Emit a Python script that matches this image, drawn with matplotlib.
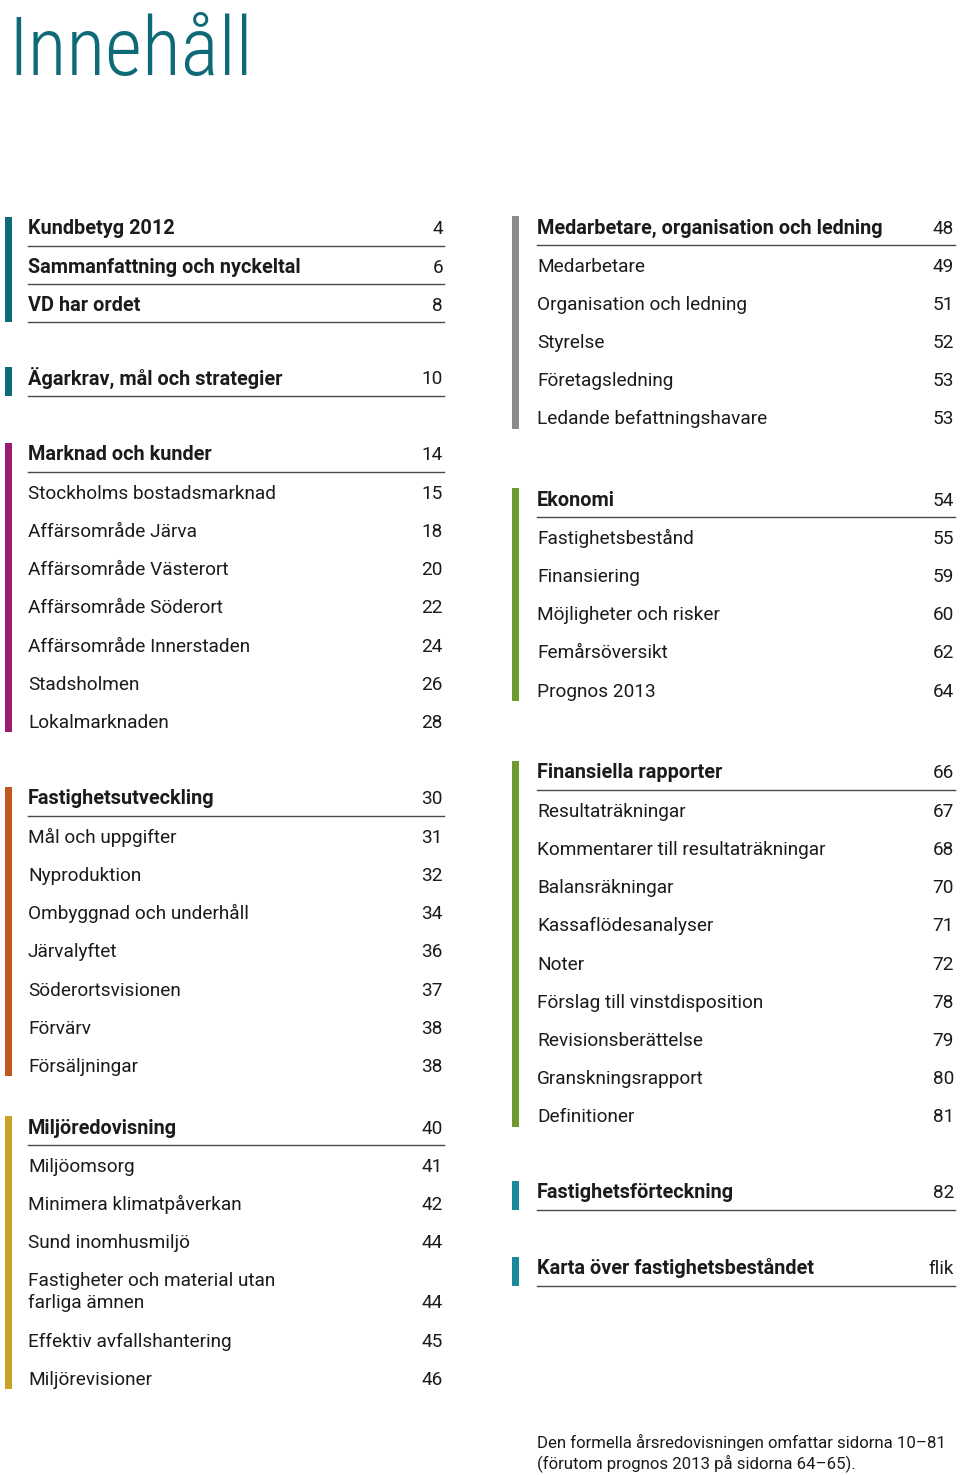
import matplotlib.pyplot as plt
from matplotlib import font_manager

# font choice: use a condensed family if one is installed
available = {f.name for f in font_manager.fontManager.ttflist}
FONT = "Roboto" if "Roboto" in available else "DejaVu Sans"
TITLE_FONT = "Roboto Condensed" if "Roboto Condensed" in available else FONT

TITLE = "Innehåll"
FOOTNOTE = ["Den formella årsredovisningen omfattar sidorna 10–81",
            "(förutom prognos 2013 på sidorna 64–65)."]

# --- contents, one pair of lists per section ---
intro_titles = ["Kundbetyg 2012", "Sammanfattning och nyckeltal", "VD har ordet"]
intro_pages = ["4", "6", "8"]

agarkrav_titles = ["Ägarkrav, mål och strategier"]
agarkrav_pages = ["10"]

marknad_titles = ["Marknad och kunder", "Stockholms bostadsmarknad", "Affärsområde Järva",
                  "Affärsområde Västerort", "Affärsområde Söderort",
                  "Affärsområde Innerstaden", "Stadsholmen", "Lokalmarknaden"]
marknad_pages = ["14", "15", "18", "20", "22", "24", "26", "28"]

utveckling_titles = ["Fastighetsutveckling", "Mål och uppgifter", "Nyproduktion",
                     "Ombyggnad och underhåll", "Järvalyftet", "Söderortsvisionen",
                     "Förvärv", "Försäljningar"]
utveckling_pages = ["30", "31", "32", "34", "36", "37", "38", "38"]

miljo_titles = ["Miljöredovisning", "Miljöomsorg", "Minimera klimatpåverkan",
                "Sund inomhusmiljö", "Fastigheter och material utan\nfarliga ämnen",
                "Effektiv avfallshantering", "Miljörevisioner"]
miljo_pages = ["40", "41", "42", "44", "44", "45", "46"]

medarb_titles = ["Medarbetare, organisation och ledning", "Medarbetare",
                 "Organisation och ledning", "Styrelse", "Företagsledning",
                 "Ledande befattningshavare"]
medarb_pages = ["48", "49", "51", "52", "53", "53"]

ekonomi_titles = ["Ekonomi", "Fastighetsbestånd", "Finansiering",
                  "Möjligheter och risker", "Femårsöversikt", "Prognos 2013"]
ekonomi_pages = ["54", "55", "59", "60", "62", "64"]

rapporter_titles = ["Finansiella rapporter", "Resultaträkningar",
                    "Kommentarer till resultaträkningar", "Balansräkningar",
                    "Kassaflödesanalyser", "Noter", "Förslag till vinstdisposition",
                    "Revisionsberättelse", "Granskningsrapport", "Definitioner"]
rapporter_pages = ["66", "67", "68", "70", "71", "72", "78", "79", "80", "81"]

forteckning_titles = ["Fastighetsförteckning"]
forteckning_pages = ["82"]

karta_titles = ["Karta över fastighetsbeståndet"]
karta_pages = ["flik"]

# --- layout: (titles, pages, bar colour, column, first row y, bold rows) ---
TEAL = "#0e6a77"
LIGHT_TEAL = "#1a8a9b"
sections = [
    (intro_titles, intro_pages, TEAL, 0, 228, 3),
    (agarkrav_titles, agarkrav_pages, TEAL, 0, 378, 1),
    (marknad_titles, marknad_pages, "#9c1b6e", 0, 454, 1),
    (utveckling_titles, utveckling_pages, "#c2561f", 0, 798, 1),
    (miljo_titles, miljo_pages, "#c8a228", 0, 1127, 1),
    (medarb_titles, medarb_pages, "#8b8b8b", 1, 227, 1),
    (ekonomi_titles, ekonomi_pages, "#6e9a30", 1, 499, 1),
    (rapporter_titles, rapporter_pages, "#6e9a30", 1, 772, 1),
    (forteckning_titles, forteckning_pages, LIGHT_TEAL, 1, 1192, 1),
    (karta_titles, karta_pages, LIGHT_TEAL, 1, 1268, 1),
]
columns = [dict(bar=5, text=28, right=444), dict(bar=512, text=537, right=955)]
PITCH = 38.2
LINE = 22
TEXT_COLOR = "#1b1b1b"
FS = 13.7
FS_BOLD = 14.3

fig = plt.figure(figsize=(9.6, 14.75), dpi=100)
ax = fig.add_axes([0, 0, 1, 1])
ax.set_xlim(0, 960)
ax.set_ylim(1475, 0)
ax.axis("off")

ax.text(8, 75, TITLE, family=TITLE_FONT, fontweight="light", fontsize=58,
        color="#0f6a78", va="baseline", ha="left")

for titles, pages, color, col, y0, n_bold in sections:
    c = columns[col]
    y = y0
    last = y0
    for i, (t, p) in enumerate(zip(titles, pages)):
        bold = i < n_bold
        lines = t.split("\n")
        for k, ln in enumerate(lines):
            ax.text(c["text"], y + k * LINE + 6.5, ln, family=FONT,
                    fontweight="bold" if bold else "normal",
                    fontsize=FS_BOLD if bold else FS,
                    color=TEXT_COLOR, va="baseline", ha="left")
        yl = y + (len(lines) - 1) * LINE
        ax.text(c["right"] - 1, yl + 6.5, p, family=FONT, fontsize=FS,
                fontweight="normal", color=TEXT_COLOR, va="baseline", ha="right")
        if bold:
            ax.plot([c["text"], c["right"]], [yl + 18, yl + 18], color="#4a4a4a", lw=1.0)
        last = yl
        y = yl + PITCH
    bottom = last + 18 if n_bold == len(titles) else last + 11
    ax.fill_between([c["bar"], c["bar"] + 7], y0 - 11, bottom, color=color, lw=0)

for k, ln in enumerate(FOOTNOTE):
    ax.text(537, 1448 + k * 20, ln, family=FONT, fontsize=12.1, color=TEXT_COLOR,
            va="baseline", ha="left")

fig.savefig("out.png", dpi=100, facecolor="white")
